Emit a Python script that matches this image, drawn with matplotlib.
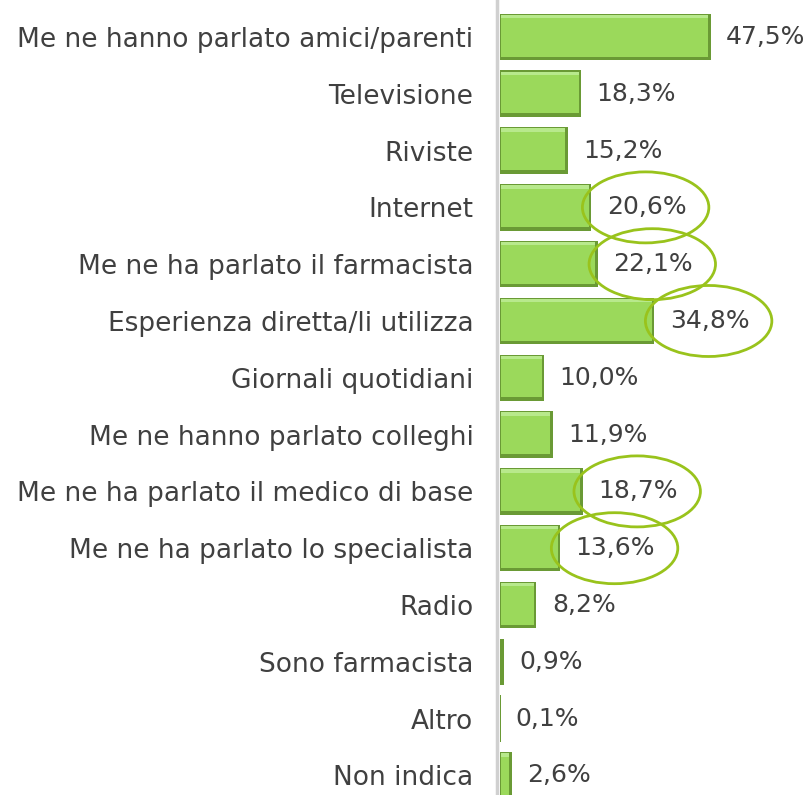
import matplotlib.pyplot as plt
from matplotlib.patches import Ellipse

# data
categories = [
    "Me ne hanno parlato amici/parenti",
    "Televisione",
    "Riviste",
    "Internet",
    "Me ne ha parlato il farmacista",
    "Esperienza diretta/li utilizza",
    "Giornali quotidiani",
    "Me ne hanno parlato colleghi",
    "Me ne ha parlato il medico di base",
    "Me ne ha parlato lo specialista",
    "Radio",
    "Sono farmacista",
    "Altro",
    "Non indica",
]
values = [47.5, 18.3, 15.2, 20.6, 22.1, 34.8, 10.0, 11.9, 18.7, 13.6, 8.2, 0.9, 0.1, 2.6]
value_labels = ["47,5%", "18,3%", "15,2%", "20,6%", "22,1%", "34,8%", "10,0%",
                "11,9%", "18,7%", "13,6%", "8,2%", "0,9%", "0,1%", "2,6%"]
circled = ["Internet", "Me ne ha parlato il farmacista", "Esperienza diretta/li utilizza",
           "Me ne ha parlato il medico di base", "Me ne ha parlato lo specialista"]

text_color = "#404040"
plt.rcParams['font.family'] = ['DejaVu Sans']

fig = plt.figure(figsize=(8.12, 7.95), dpi=100)
ax = fig.add_axes([497 / 812, 0, 315 / 812, 1])
ax.set_xlim(-0.7, 70.3)
ax.set_ylim(13.345, -0.651)

y = list(range(len(categories)))
h = 0.82

# bars with a simple bevel look
ax.barh(y, values, height=h, color="#6a9a35", zorder=2)
inner = [max(v - 0.9, 0) for v in values]
ax.barh([i - 0.015 for i in y], inner, height=h - 0.1, left=0.3, color="#9bd95b", zorder=3)
ax.barh([i - h / 2 + 0.05 for i in y], inner, height=0.06, left=0.3, color="#b8e98c", zorder=4)

for i, (v, lab, cat) in enumerate(zip(values, value_labels, categories)):
    ax.annotate(lab, xy=(v, i), xytext=(11, 0), textcoords="offset points",
                ha="left", va="center", fontsize=18, color=text_color, zorder=5)
    if cat in circled:
        ax.add_patch(Ellipse((v + 12.2, i), 28.5, 1.25, fill=False,
                             edgecolor="#99c31c", lw=2, zorder=6))

ax.set_yticks(y)
ax.set_yticklabels(categories, fontsize=19, color=text_color)
ax.tick_params(axis="y", length=0, pad=17)
ax.set_xticks([])
for s in ["top", "right", "bottom"]:
    ax.spines[s].set_visible(False)
ax.spines["left"].set_color("#d0d0d0")
ax.spines["left"].set_linewidth(2.5)
ax.patch.set_alpha(0)

fig.savefig("out.png", dpi=100)
